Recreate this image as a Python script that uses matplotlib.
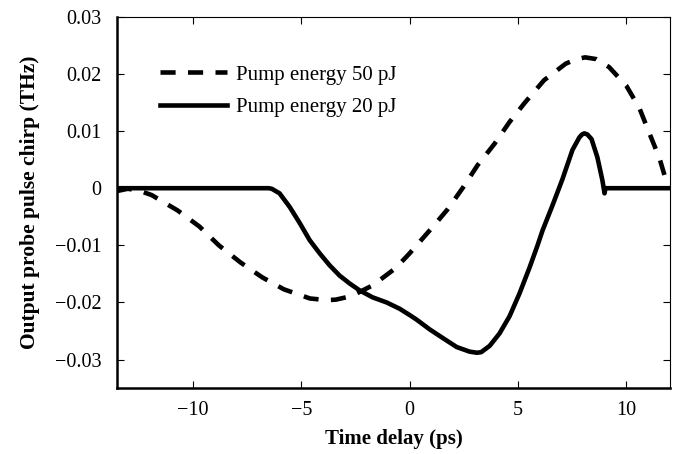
import matplotlib.pyplot as plt
from matplotlib.ticker import FuncFormatter

plt.rcParams["font.family"] = ["Liberation Serif", "DejaVu Serif"]

# Pump energy 50 pJ (dashed)
t_50 = [-13.5, -13.0, -12.5, -11.9, -10.7, -9.7, -8.8, -7.8, -6.8, -5.8, -4.6,
        -3.8, -3.4, -2.7, -1.7, -0.65, 0.0, 1.06, 1.75, 2.44, 3.13, 3.92, 4.61,
        5.3, 6.2, 7.2, 7.7, 8.1, 8.6, 9.2, 10.0, 10.6, 11.06, 11.52, 11.84, 12.0]
chirp_50 = [-0.0005, -0.0001, -0.0004, -0.0012, -0.0039, -0.0067, -0.0100, -0.0130,
            -0.0156, -0.0177, -0.0193, -0.0196, -0.0195, -0.0189, -0.0170, -0.0140,
            -0.0114, -0.0068, -0.0037, 0.0000, 0.0040, 0.0078, 0.0116, 0.0149,
            0.0189, 0.0218, 0.0226, 0.0229, 0.0226, 0.0212, 0.0179, 0.0140, 0.0096,
            0.0053, 0.0012, 0.0]

# Pump energy 20 pJ (solid)
t_20 = [-13.5, -6.5, -6.36, -6.0, -5.53, -5.07, -4.61, -4.15, -3.69, -3.23, -2.76,
        -2.3, -1.71, -1.06, -0.46, 0.0, 0.32, 0.92, 1.52, 2.17, 2.76, 3.1, 3.3,
        3.69, 4.15, 4.61, 5.07, 5.53, 5.9, 6.13, 6.59, 7.05, 7.51, 7.83, 7.95, 8.06,
        8.2, 8.39, 8.66, 8.89, 8.99, 9.03, 12.0]
chirp_20 = [0.0, 0.0, -0.0001, -0.0009, -0.0033, -0.0061, -0.0091, -0.0114,
            -0.0135, -0.0153, -0.0167, -0.0179, -0.0191, -0.0200, -0.0211, -0.0222,
            -0.0230, -0.0247, -0.0262, -0.0278, -0.0286, -0.0288, -0.0287, -0.0276,
            -0.0254, -0.0224, -0.0184, -0.0139, -0.0100, -0.0074, -0.0030, 0.0016,
            0.0067, 0.0089, 0.0094, 0.0096, 0.0094, 0.0086, 0.0054, 0.0014, -0.0009,
            0.0, 0.0]

x_ticks = [-10, -5, 0, 5, 10]
y_ticks = [-0.03, -0.02, -0.01, 0, 0.01, 0.02, 0.03]

fig = plt.figure(figsize=(6.8, 4.54), dpi=100)
ax = fig.add_axes([0.172, 0.145, 0.813, 0.818])

ax.plot(t_50, chirp_50, color="black", lw=3.3, linestyle=(0, (3.3, 2.7)),
        label="Pump energy 50 pJ")
ax.plot(t_20, chirp_20, color="black", lw=3.3, label="Pump energy 20 pJ")

ax.set_xlim(-13.5, 12)
ax.set_ylim(-0.035, 0.03)
ax.set_xticks(x_ticks)
ax.set_yticks(y_ticks)
ax.yaxis.set_major_formatter(FuncFormatter(lambda v, p: f"{round(v, 3):g}".replace("-", "\u2212")))
ax.tick_params(direction="in", length=5, width=0.8, top=True, right=True,
               labelsize=14.5)
ax.tick_params(axis="y", pad=11)
ax.tick_params(axis="x", pad=9)

ax.spines["left"].set_linewidth(1.8)
ax.spines["bottom"].set_linewidth(1.8)
ax.spines["top"].set_linewidth(0.8)
ax.spines["right"].set_linewidth(0.8)

ax.set_xlabel("Time delay (ps)", fontsize=15, fontweight="bold", labelpad=7)
ax.set_ylabel("Output probe pulse chirp (THz)", fontsize=15.5, fontweight="bold", labelpad=11)

ax.legend(loc="center left", bbox_to_anchor=(0.063, 0.80), borderaxespad=0,
          frameon=False, fontsize=15, handlelength=3.2, handletextpad=0.45,
          labelspacing=0.62)

fig.savefig("out.png", dpi=100)
